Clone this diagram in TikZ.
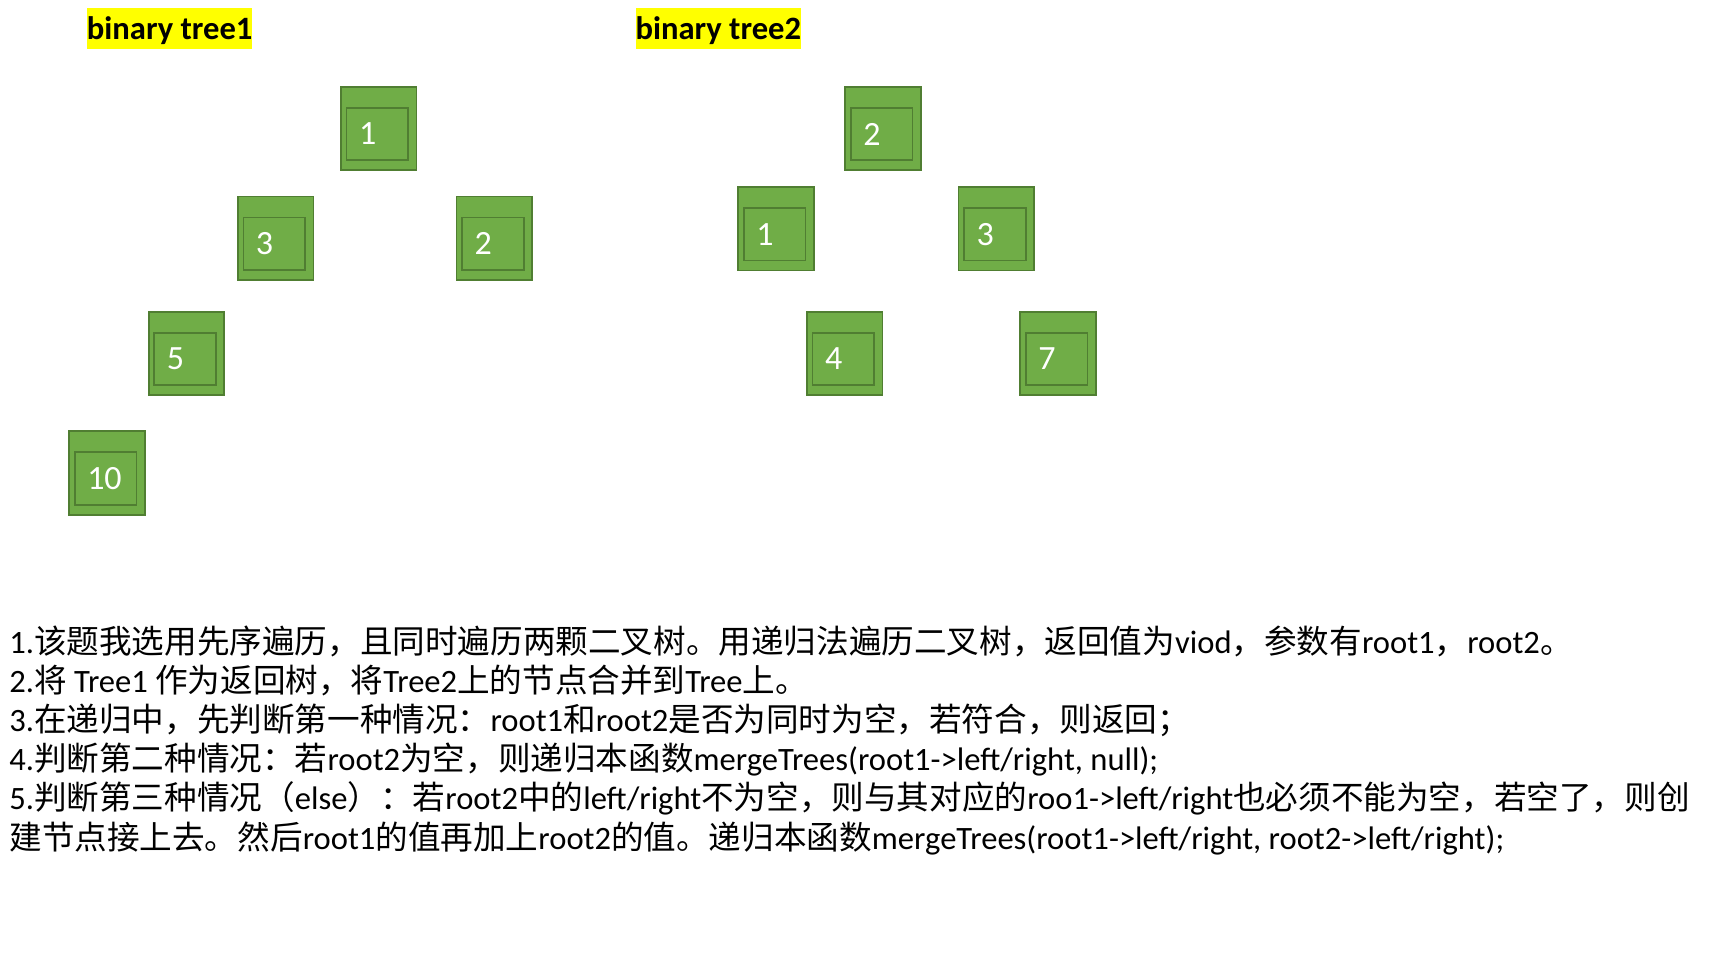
\documentclass[tikz,border=0pt]{standalone}
\usepackage{fontspec}
\setmainfont{Carlito}
\newfontfamily\zh{Noto Sans CJK SC}
\usetikzlibrary{calc}
\definecolor{leafgreen}{HTML}{70AD47}
\definecolor{leafedge}{HTML}{507E32}
\definecolor{marker}{HTML}{FFFF00}
\tikzset{
  tbox/.style={rectangle, draw=leafedge, fill=leafgreen, line width=0.9pt, minimum width=37.75pt, minimum height=41.75pt, inner sep=0pt},
  tin/.style={rectangle, draw=leafedge, fill=leafgreen, line width=0.9pt, minimum height=26.25pt, inner xsep=6.25pt, inner ysep=0pt, text width=18.35pt, align=left, text=white, font=\fontsize{17pt}{20pt}\selectfont},
  ttl/.style={fill=marker, inner xsep=0pt, inner ysep=0pt, text height=15.5pt, text depth=5pt, font=\fontsize{16.3pt}{20pt}\selectfont\bfseries},
  ln/.style={anchor=base west, inner sep=0pt, font=\fontsize{16.3pt}{19.6pt}\selectfont}
}
\newcommand{\tnode}[3]{\node[tbox] (#1) at (#2) {}; \node[tin] (#1i) at ($(#1)+(-1.4,5.5)$) {#3};}

\begin{document}
\begin{tikzpicture}[x=0.5pt, y=-0.5pt]
		\useasboundingbox (0,0) rectangle (1721,958);
		\node[ttl] (h1) at (169.7,28.7) {binary tree1};
		\node[ttl] (h2) at (718.3,28.7) {binary tree2};
		% tree 1
		\tnode{a1}{378.8,128.5}{1}
		\tnode{a3}{275.7,238.2}{3}
		\tnode{a2}{494.3,238.2}{2}
		\tnode{a5}{186.5,353.5}{5}
		\tnode{a10}{107,472.9}{10}
		% tree 2
		\tnode{b2}{883,128.5}{2}
		\tnode{b1}{776,228.8}{1}
		\tnode{b3}{996.3,228.8}{3}
		\tnode{b4}{844.8,353.5}{4}
		\tnode{b7}{1058,353.5}{7}
		% notes
		\node[ln] (l1) at (9,653) {1.{\zh 该题我选用先序遍历，且同时遍历两颗二叉树。用递归法遍历二叉树，返回值为}viod{\zh ，参数有}root1{\zh ，}root2{\zh 。}};
		\node[ln] (l2) at (9,692.2) {2.{\zh 将} Tree1 {\zh 作为返回树，将}Tree2{\zh 上的节点合并到}Tree{\zh 上。}};
		\node[ln] (l3) at (9,731.4) {3.{\zh 在递归中，先判断第一种情况：}root1{\zh 和}root2{\zh 是否为同时为空，若符合，则返回；}};
		\node[ln] (l4) at (9,770.6) {4.{\zh 判断第二种情况：若}root2{\zh 为空，则递归本函数}mergeTrees(root1->left/right, null);};
		\node[ln] (l5) at (9,809.8) {5.{\zh 判断第三种情况（}else{\zh ）：若}root2{\zh 中的}left/right{\zh 不为空，则与其对应的}roo1->left/right{\zh 也必须不能为空，若空了，则创}};
		\node[ln] (l6) at (9,849) {{\zh 建节点接上去。然后}root1{\zh 的值再加上}root2{\zh 的值。递归本函数}mergeTrees(root1->left/right, root2->left/right);};
	\end{tikzpicture}
\end{document}
